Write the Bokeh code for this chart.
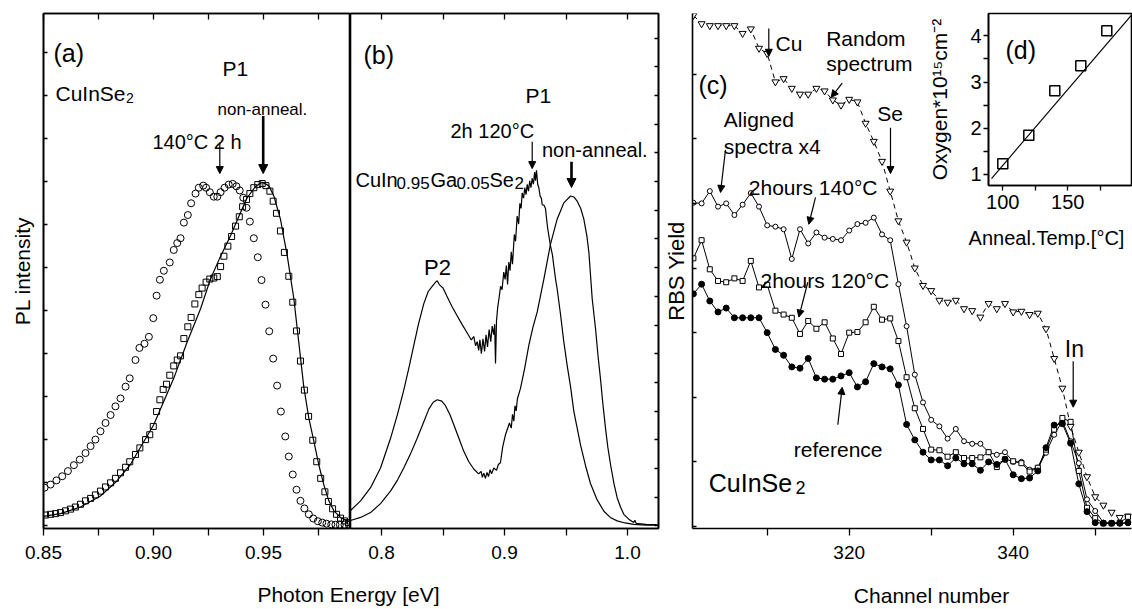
from math import pi
from bokeh.plotting import figure
from bokeh.models import (Range1d, LinearAxis, FixedTicker, PrintfTickFormatter,
                          Label, Arrow, NormalHead)
from bokeh.layouts import row
from bokeh.embed import file_html
from bokeh.resources import INLINE

FONT = "Liberation Sans"
INK = "black"

# ---------------- data: panel (a) CuInSe2 PL ----------------
a_energy_140 = [0.8505,0.8532,0.8559,0.8585,0.8611,0.8638,0.8665,0.8691,0.8714,0.8736,0.8759,0.8782,0.8805,0.8827,0.8850,0.8873,0.8892,
                0.8918,0.8936,0.8959,0.8979,0.8999,0.9014,0.9029,0.9047,0.9074,0.9092,0.9108,0.9123,0.9138,0.9156,0.9171,
                0.9191,0.9206,0.9226,0.9239,0.9256,0.9274,0.9290,0.9305,0.9323,0.9342,0.9360,0.9377,0.9392,0.9408,0.9423,0.9438,
                0.9456,0.9474,0.9491,0.9509,0.9526,0.9544,0.9562,0.9579,0.9599,0.9615,0.9633,0.9650,0.9668,0.9686,
                0.9706,0.9726,0.9747,0.9767,0.9786,0.9808,0.9827,0.9847,0.9868,0.9888]
a_pl_140 = [0.118,0.127,0.139,0.151,0.166,0.183,0.199,0.218,0.238,0.257,0.281,0.305,0.328,0.353,0.376,0.410,0.434,
            0.487,0.522,0.534,0.554,0.608,0.673,0.719,0.745,0.769,0.805,0.825,0.839,0.884,0.906,0.940,
            0.968,0.985,0.991,0.985,0.972,0.959,0.959,0.972,0.985,0.994,0.996,0.989,0.977,0.956,0.927,0.887,
            0.839,0.784,0.718,0.647,0.570,0.491,0.413,0.338,0.266,0.208,0.156,0.112,0.080,0.058,
            0.041,0.029,0.021,0.017,0.014,0.012,0.011,0.011,0.011,0.011]
a_energy_non = [0.8509,0.8532,0.8555,0.8577,0.8600,0.8623,0.8645,0.8668,0.8691,0.8714,0.8736,0.8759,0.8782,0.8805,0.8827,0.8850,0.8873,0.8892,
                0.8918,0.8938,0.8964,0.8983,0.8999,0.9014,0.9029,0.9044,0.9059,0.9074,0.9092,0.9108,0.9123,0.9138,0.9156,0.9171,0.9188,0.9206,0.9221,0.9239,
                0.9256,0.9274,0.9290,0.9305,0.9320,0.9338,0.9355,0.9373,0.9390,0.9405,0.9423,0.9438,0.9456,0.9474,0.9494,0.9511,0.9529,0.9544,0.9559,0.9577,
                0.9595,0.9615,0.9633,0.9650,0.9668,0.9686,0.9705,0.9724,0.9742,0.9760,0.9779,0.9795,0.9814,0.9832,0.9850,0.9868,0.9886]
a_pl_non = [0.039,0.041,0.043,0.046,0.051,0.056,0.062,0.070,0.080,0.087,0.097,0.108,0.120,0.132,0.145,0.161,0.177,0.193,
            0.214,0.233,0.257,0.271,0.295,0.338,0.372,0.402,0.417,0.443,0.470,0.487,0.499,0.549,0.583,0.610,0.649,0.676,0.695,0.712,
            0.721,0.724,0.728,0.757,0.787,0.816,0.844,0.874,0.901,0.930,0.951,0.968,0.985,0.994,0.997,0.991,0.975,0.946,0.911,0.860,
            0.798,0.729,0.654,0.571,0.484,0.400,0.324,0.255,0.193,0.145,0.106,0.078,0.057,0.041,0.030,0.022,0.017]
a_fit_energy = [0.8500,0.8577,0.8668,0.8759,0.8830,0.8895,0.9001,0.9092,0.9153,0.9214,0.9259,0.9300,0.9350,0.9400,0.9426,0.9464,
                0.9494,0.9524,0.9547,0.9577,0.9608,0.9638,0.9660,0.9683,0.9706,0.9729,0.9751,0.9774,0.9797,0.9820,0.9850,0.9880,0.9895]
a_fit_pl = [0.035,0.043,0.062,0.094,0.135,0.185,0.300,0.434,0.539,0.635,0.721,0.780,0.846,0.920,0.956,0.989,
            1.001,0.991,0.961,0.894,0.788,0.664,0.540,0.410,0.319,0.252,0.185,0.127,0.080,0.051,0.032,0.022,0.020]

# ---------------- data: panel (b) CuIn0.95Ga0.05Se2 PL ----------------
b_energy_120 = [0.7748,0.7830,0.7911,0.7992,0.8073,0.8130,0.8181,0.8220,0.8263,0.8300,
                0.8344,0.8380,0.8412,0.8440,0.8453,0.8470,0.8500,0.8534,0.8575,0.8615,
                0.8655,0.8697,0.8730,0.8750,0.8765,0.8778,0.8790,0.8800,0.8812,0.8825,
                0.8838,0.8850,0.8862,0.8875,0.8888,0.8900,0.8912,0.8920,0.8927,0.8935,
                0.8945,0.8955,0.8968,0.8980,0.8994,0.9005,0.9015,0.9025,0.9035,0.9045,
                0.9055,0.9065,0.9080,0.9090,0.9103,0.9115,0.9125,0.9135,0.9144,0.9155,
                0.9165,0.9175,0.9185,0.9195,0.9205,0.9215,0.9225,0.9235,0.9245,0.9252,
                0.9260,0.9270,0.9279,0.9290,0.9300,0.9307,0.9320,0.9333,0.9350,0.9374,
                0.9390,0.9401,0.9415,0.9428,0.9455,0.9482,0.9510,0.9537,0.9564,0.9591,
                0.9618,0.9660,0.9699,0.9750,0.9808,0.9860,0.9916,0.9980,1.0051,1.0150,1.0241]
b_pl_120 = [0.052,0.080,0.118,0.175,0.260,0.330,0.400,0.460,0.530,0.590,
            0.650,0.685,0.700,0.712,0.716,0.705,0.695,0.670,0.640,0.615,
            0.590,0.565,0.545,0.555,0.528,0.540,0.515,0.545,0.505,0.548,
            0.512,0.560,0.525,0.575,0.540,0.585,0.560,0.590,0.477,0.600,
            0.640,0.664,0.700,0.690,0.741,0.720,0.760,0.705,0.770,0.745,
            0.800,0.764,0.850,0.830,0.903,0.880,0.940,0.925,0.970,0.955,
            0.985,0.965,0.995,0.975,1.005,0.985,1.012,0.995,1.030,1.005,
            1.035,0.995,0.985,0.960,0.955,0.935,0.935,0.925,0.870,0.817,
            0.790,0.759,0.721,0.693,0.620,0.540,0.470,0.410,0.338,0.290,
            0.242,0.180,0.130,0.085,0.050,0.032,0.022,0.016,0.012,0.010,0.010]
b_energy_non = [0.7748,0.7830,0.7911,0.7992,0.8073,0.8130,0.8181,0.8235,0.8290,0.8340,
                0.8385,0.8420,0.8453,0.8490,0.8520,0.8555,0.8588,0.8630,0.8669,0.8710,
                0.8750,0.8790,0.8810,0.8820,0.8832,0.8845,0.8858,0.8870,0.8883,0.8895,
                0.8913,0.8935,0.8950,0.8967,0.8985,0.9008,0.9040,0.9055,0.9065,0.9076,
                0.9085,0.9095,0.9105,0.9130,0.9165,0.9198,0.9230,0.9266,0.9320,0.9374,
                0.9428,0.9482,0.9537,0.9565,0.9591,0.9620,0.9645,0.9670,0.9686,0.9713,
                0.9740,0.9760,0.9780,0.9800,0.9821,0.9840,0.9862,0.9890,0.9916,0.9943,
                0.9970,1.0010,1.0051,1.0060,1.0070,1.0150,1.0241]
b_pl_non = [0.023,0.032,0.046,0.072,0.108,0.140,0.175,0.215,0.261,0.305,
            0.345,0.365,0.372,0.368,0.355,0.330,0.300,0.260,0.223,0.193,
            0.172,0.158,0.165,0.148,0.160,0.145,0.162,0.150,0.170,0.158,
            0.175,0.168,0.185,0.190,0.235,0.271,0.305,0.290,0.330,0.310,
            0.355,0.340,0.375,0.405,0.465,0.530,0.580,0.626,0.721,0.822,
            0.894,0.941,0.961,0.958,0.946,0.925,0.894,0.845,0.798,0.664,
            0.578,0.500,0.434,0.360,0.290,0.235,0.185,0.130,0.089,0.062,
            0.041,0.027,0.017,0.024,0.015,0.012,0.011]

# ---------------- data: panel (c) RBS spectra ----------------
c_channel = list(range(301, 355))
c_140 = [5.01,5.00,5.19,4.95,5.00,4.82,4.98,5.16,4.95,4.66,
         4.64,4.60,4.14,4.60,4.38,4.55,4.47,4.45,4.43,4.58,
         4.68,4.70,4.78,4.52,4.43,3.75,3.10,2.35,1.92,1.65,
         1.55,1.36,1.51,1.32,1.28,1.28,1.15,1.11,1.15,1.00,
         1.00,0.88,0.91,1.14,1.42,1.63,1.32,0.98,0.42,0.24,
         0.06,0.05,0.05,0.05]
c_120 = [4.15,4.43,3.98,3.80,3.78,3.84,3.80,4.11,3.70,3.74,
         3.34,3.28,3.23,2.98,3.18,3.06,3.16,2.91,2.67,3.00,
         3.01,3.16,3.40,3.20,3.22,2.87,2.31,1.83,1.51,1.19,
         1.18,1.08,1.15,1.06,1.06,1.07,1.15,0.92,1.04,1.01,
         0.98,0.85,0.91,1.19,1.50,1.68,1.62,0.86,0.29,0.13,
         0.05,0.05,0.06,0.15]
c_reference = [3.60,3.75,3.49,3.32,3.38,3.23,3.23,3.23,3.23,3.00,
               2.74,2.65,2.47,2.45,2.60,2.30,2.28,2.28,2.33,2.38,
               2.16,2.24,2.52,2.47,2.44,2.19,1.58,1.34,1.15,1.03,
               1.03,0.94,1.06,0.97,0.97,0.87,1.00,0.96,1.04,0.80,
               0.74,0.75,0.86,1.22,1.57,1.59,1.29,0.66,0.23,0.06,
               0.05,0.05,0.05,0.06]
c_random = [7.91,7.78,7.75,7.75,7.75,7.75,7.63,7.70,7.40,7.32,
            6.88,6.93,6.78,6.69,6.69,6.78,6.74,6.60,6.52,6.61,
            6.57,6.24,5.96,5.65,5.19,4.73,4.40,4.00,3.73,3.65,
            3.50,3.47,3.50,3.37,3.34,3.24,3.45,3.37,3.45,3.32,
            3.33,3.28,3.30,3.06,2.60,2.14,1.55,1.15,0.77,0.46,
            0.33,0.22,0.14,0.16]

# ---------------- data: inset (d) oxygen vs anneal temperature ----------------
d_temp = [100, 120, 140, 160, 180]
d_oxygen = [1.23, 1.85, 2.81, 3.35, 4.11]
d_fit_temp = [91.3, 199.0]
d_fit_oxygen = [0.91, 4.45]

# tick values
a_xticks, a_xminor = [0.85, 0.90, 0.95], [0.875, 0.925, 0.975]
b_xticks, b_xminor = [0.8, 0.9, 1.0], [0.85, 0.95]
c_xticks, c_xminor = [320, 340], [310, 330, 350]
c_yticks = [0, 1, 2, 3, 4, 5, 6, 7]
d_xticks, d_xminor = [100, 150], [125, 175]
d_yticks, d_yminor = [1, 2, 3, 4], [1.5, 2.5, 3.5]

# ---------------- layout geometry (page pixel -> data) ----------------
def ax_(px): return 0.85 + (px - 43) / 2200.0
def ay_(py): return (531 - py) / 348.0
def bx_(px): return 0.8 + (px - 381) / 1230.0
def cx_(px): return 320 + (px - 848.7) / 8.2
def cy_(py): return (529 - py) / 65.0
def dx_(px): return 100 + (px - 1002.3) / 1.3
def dy_(py): return 4 + (35.7 - py) / 47.0

a_yticks = [ay_(528.3 - 43.3 * k) for k in range(12)]
b_yticks = [ay_(528.3 - 28.85 * k) for k in range(18)]

H = 609
TOP, BOTTOM = 13, 78   # equal for every figure in the row (frames get aligned)


def panel(width, height, xr, yr, left, right, outline=True):
    p = figure(width=width, height=height, x_range=xr, y_range=yr,
               x_axis_type=None, y_axis_type=None, output_backend="svg",
               toolbar_location=None, min_border_left=left, min_border_right=right,
               min_border_top=TOP, min_border_bottom=BOTTOM, align="start")
    p.background_fill_color = "white"
    p.border_fill_color = None
    p.outline_line_color = INK if outline else None
    p.outline_line_width = 1.6
    return p


def axis(p, side, ticks, minor, t_in, t_out, fmt=None, size="19px", standoff=10):
    ax = LinearAxis(ticker=FixedTicker(ticks=ticks, minor_ticks=minor))
    ax.axis_line_color = INK
    ax.axis_line_width = 1.6
    ax.major_tick_line_color = INK
    ax.minor_tick_line_color = INK
    ax.major_tick_line_width = 1.3
    ax.minor_tick_line_width = 1.3
    ax.major_tick_in, ax.major_tick_out = t_in, t_out
    ax.minor_tick_in, ax.minor_tick_out = t_in, t_out
    if fmt is None:
        ax.major_label_text_color = None
        ax.major_label_standoff = 0
    else:
        ax.formatter = PrintfTickFormatter(format=fmt)
        ax.major_label_text_font = FONT
        ax.major_label_text_font_size = size
        ax.major_label_text_color = INK
        ax.major_label_standoff = standoff
    p.add_layout(ax, side)
    return ax


def style_title(ax, label, size, standoff):
    ax.axis_label = label
    ax.axis_label_text_font = FONT
    ax.axis_label_text_font_size = size
    ax.axis_label_text_font_style = "normal"
    ax.axis_label_text_color = INK
    ax.axis_label_standoff = standoff


def title_axis(p, side, label, size, standoff):
    """An invisible axis that only carries an axis title."""
    ax = LinearAxis(ticker=FixedTicker(ticks=[]))
    ax.axis_line_color = None
    ax.major_tick_line_color = None
    ax.minor_tick_line_color = None
    ax.major_tick_in = ax.major_tick_out = 0
    ax.minor_tick_in = ax.minor_tick_out = 0
    ax.major_label_text_color = None
    ax.major_label_standoff = 0
    style_title(ax, label, size, standoff)
    p.add_layout(ax, side)
    return ax


def title_figure(width, height, label, size, standoff):
    """Transparent figure whose frame is centred on an axis title."""
    p = figure(width=width, height=height, x_range=Range1d(0, 1), y_range=Range1d(0, 1),
               x_axis_type=None, y_axis_type=None, output_backend="svg",
               toolbar_location=None, min_border_left=0, min_border_right=0,
               min_border_top=TOP, min_border_bottom=BOTTOM, align="start")
    p.background_fill_color = None
    p.border_fill_color = None
    p.outline_line_color = None
    title_axis(p, "below", label, size, standoff)
    return p


def text(p, x, y, s, size, align="left", baseline="alphabetic", angle=0.0):
    p.add_layout(Label(x=x, y=y, text=s, text_font=FONT, text_font_size=size,
                       text_color=INK, text_align=align, text_baseline=baseline,
                       angle=angle))


def arrow(p, x0, y0, x1, y1, width=1.2, head=7):
    p.add_layout(Arrow(end=NormalHead(size=head, fill_color=INK, line_color=INK, line_width=1),
                       x_start=x0, y_start=y0, x_end=x1, y_end=y1,
                       line_color=INK, line_width=width))


# ---------------- panel (a) ----------------
pa = panel(43 + 307, H, Range1d(ax_(43), ax_(350)), Range1d(ay_(531), ay_(13)), 43, 0)
axis(pa, "below", a_xticks, a_xminor, 0, 7, fmt="%.2f")
axis(pa, "above", a_xticks, a_xminor, 6, 0)
axis(pa, "left", a_yticks, [], 4, 0)
title_axis(pa, "left", "PL intensity", "21px", 10)
pa.line(a_fit_energy, a_fit_pl, line_color=INK, line_width=1.2)
pa.scatter(a_energy_non, a_pl_non, marker="square", size=6, fill_color=None,
           line_color=INK, line_width=1)
pa.scatter(a_energy_140, a_pl_140, marker="circle", size=7, fill_color=None,
           line_color=INK, line_width=1)
text(pa, ax_(53), ay_(53), "(a)", "25px")
text(pa, ax_(55), ay_(93), "CuInSe", "21px")
text(pa, ax_(125.5), ay_(97.5), "2", "14px")
text(pa, ax_(222), ay_(68), "P1", "21px")
text(pa, ax_(217), ay_(110), "non-anneal.", "17px")
text(pa, ax_(152), ay_(142), "140°C 2 h", "20px")
arrow(pa, ax_(219.3), ay_(143), ax_(219.3), ay_(174), width=1.2, head=7)
arrow(pa, ax_(262.7), ay_(116), ax_(262.7), ay_(174), width=2.6, head=9)

# ---------------- panel (b) ----------------
pb = panel(0 + 308 + 10, H, Range1d(bx_(350), bx_(658)), Range1d(ay_(531), ay_(13)), 0, 10)
axis(pb, "below", b_xticks, b_xminor, 0, 7, fmt="%.1f")
axis(pb, "above", b_xticks, b_xminor, 6, 0)
axis(pb, "right", b_yticks, [], 4, 0)
pb.line(b_energy_non, b_pl_non, line_color=INK, line_width=1.2)
pb.line(b_energy_120, b_pl_120, line_color=INK, line_width=1.2)
text(pb, bx_(363), ay_(55), "(b)", "25px")
text(pb, bx_(525), ay_(95), "P1", "21px")
text(pb, bx_(450), ay_(131), "2h 120°C", "20px")
text(pb, bx_(541.5), ay_(150), "non-anneal.", "20px")
text(pb, bx_(355), ay_(180), "CuIn", "20px")
text(pb, bx_(396), ay_(183.5), "0.95", "17px")
text(pb, bx_(430), ay_(180), "Ga", "20px")
text(pb, bx_(456), ay_(183.5), "0.05", "17px")
text(pb, bx_(489), ay_(180), "Se", "20px")
text(pb, bx_(514), ay_(183.5), "2", "17px")
text(pb, bx_(423.5), ay_(268.3), "P2", "22px")
arrow(pb, bx_(531.7), ay_(142), bx_(531.7), ay_(169), width=1.2, head=7)
arrow(pb, bx_(571), ay_(162), bx_(571), ay_(188), width=2.6, head=9)

# ---------------- panel (c) ----------------
pc = panel(54 + 439 + 1, H, Range1d(cx_(692), cx_(1131)), Range1d(cy_(531), cy_(13)),
           54, 1, outline=False)
axis(pc, "below", c_xticks, c_xminor, 0, 7, fmt="%d")
axis(pc, "left", c_yticks, [], 4, 0)
title_axis(pc, "left", "RBS Yield", "22px", 4)
pc.line(c_channel, c_random, line_color=INK, line_width=1, line_dash="5 4")
pc.line(c_channel, c_140, line_color=INK, line_width=1)
pc.line(c_channel, c_120, line_color=INK, line_width=1)
pc.line(c_channel, c_reference, line_color=INK, line_width=1)
pc.scatter(c_channel, c_random, marker="inverted_triangle", size=7, fill_color="white",
           line_color=INK, line_width=1)
pc.scatter(c_channel, c_140, marker="circle", size=5, fill_color="white",
           line_color=INK, line_width=1)
pc.scatter(c_channel, c_120, marker="square", size=5, fill_color="white",
           line_color=INK, line_width=1)
pc.scatter(c_channel, c_reference, marker="circle", size=6, fill_color=INK,
           line_color=INK, line_width=1)
text(pc, cx_(698), cy_(85), "(c)", "25px")
text(pc, cx_(775), cy_(43), "Cu", "21px")
text(pc, cx_(825.7), cy_(38.3), "Random", "21px")
text(pc, cx_(825.7), cy_(63.3), "spectrum", "21px")
text(pc, cx_(876.7), cy_(113.3), "Se", "21px")
text(pc, cx_(723.3), cy_(119.3), "Aligned", "21px")
text(pc, cx_(723.3), cy_(146.7), "spectra x4", "21px")
text(pc, cx_(748.3), cy_(188.3), "2hours 140°C", "21px")
text(pc, cx_(760), cy_(281.7), "2hours 120°C", "21px")
text(pc, cx_(793.3), cy_(451.7), "reference", "21px")
text(pc, cx_(708.3), cy_(485), "CuInSe", "25px")
text(pc, cx_(795), cy_(489.3), "2", "18px")
text(pc, cx_(1064.3), cy_(350.7), "In", "23px")
arrow(pc, cx_(768.3), cy_(28), cx_(768.3), cy_(56))
arrow(pc, cx_(841.7), cy_(83), cx_(830.7), cy_(97.3))
arrow(pc, cx_(890), cy_(128), cx_(890), cy_(174))
arrow(pc, cx_(725), cy_(150), cx_(720), cy_(193))
arrow(pc, cx_(815), cy_(198), cx_(808.3), cy_(225))
arrow(pc, cx_(807.3), cy_(283.3), cx_(798.3), cy_(318.3))
arrow(pc, cx_(837.3), cy_(426.7), cx_(841.7), cy_(389))
arrow(pc, cx_(1072.7), cy_(362.7), cx_(1072.7), cy_(409))

# ---------------- inset (d) ----------------
pd = panel(68 + 143 + 1, TOP + 175 + BOTTOM, Range1d(dx_(988), dx_(1131)), Range1d(dy_(188), dy_(13)),
           68, 1)
axis(pd, "below", d_xticks, d_xminor, 0, 5, fmt="%d", size="20px", standoff=4)
d_left = axis(pd, "left", d_yticks, d_yminor, 0, 5, fmt="%d", size="20px", standoff=2)
style_title(d_left, "Oxygen*10¹⁵cm⁻²", "21px", 16)
pd.line(d_fit_temp, d_fit_oxygen, line_color=INK, line_width=1.2)
pd.scatter(d_temp, d_oxygen, marker="square", size=10, fill_color=None,
           line_color=INK, line_width=1.5)
text(pd, dx_(1005), dy_(50), "(d)", "25px")

# ---------------- axis titles that are not centred on a single frame ----------------
t_energy = title_figure(200, H, "Photon Energy [eV]", "21px", 54)
t_channel = title_figure(200, H, "Channel number", "21px", 55)
t_temp = title_figure(170, TOP + 175 + BOTTOM, "Anneal.Temp.[°C]", "20px", 41)

# page-x position of each figure in the row, in painting order
placement = [(pa, 0), (pb, 350), (t_energy, 248), (pc, 638),
             (t_channel, 831), (t_temp, 961), (pd, 920)]
prev_right = 0
for fig, x in placement:
    fig.margin = (0, 0, 0, x - prev_right)
    prev_right = x + fig.width
layout = row(*[f for f, _ in placement])

open("out.html", "w").write(file_html(layout, INLINE))
